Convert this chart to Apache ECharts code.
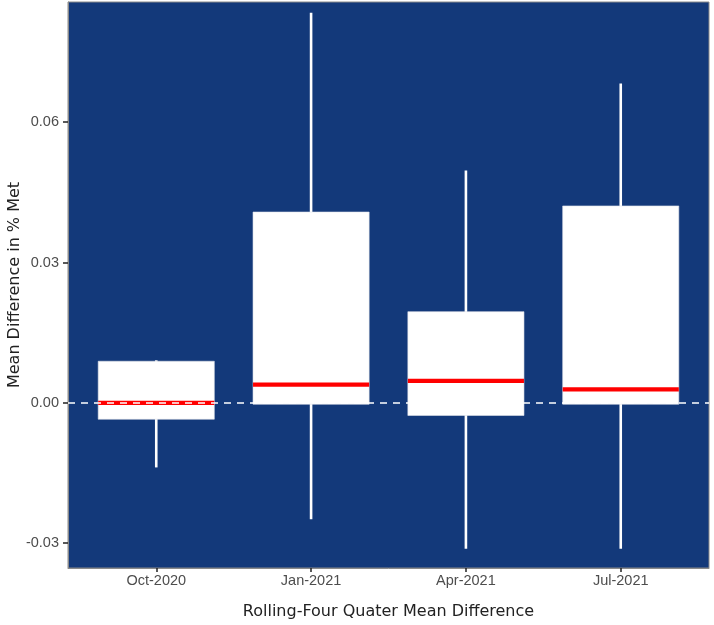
<!DOCTYPE html>
<html>
<head>
<meta charset="utf-8">
<script src="https://cdn.jsdelivr.net/npm/echarts@6/dist/echarts.min.js"></script>
<style>html,body{margin:0;padding:0;background:#fff;}#c{width:714px;height:625px;}</style>
</head>
<body>
<div id="c"></div>
<script>
var categories = ['Oct-2020', 'Jan-2021', 'Apr-2021', 'Jul-2021'];
var lowValues = [-0.0138, -0.0249, -0.0312, -0.0312];
var q1Values = [-0.0035, -0.0003, -0.0027, -0.0003];
var medianValues = [0.0000, 0.0039, 0.0047, 0.0029];
var q3Values = [0.0089, 0.0408, 0.0195, 0.0421];
var highValues = [0.0091, 0.0834, 0.0497, 0.0683];
var yTicks = [-0.03, 0.00, 0.03, 0.06];

var boxData = categories.map(function (c, i) {
  return [i, lowValues[i], q1Values[i], medianValues[i], q3Values[i], highValues[i]];
});
var xTickValues = categories.map(function (c, i) { return i; });
var halfWidth = 0.375;

var chart = echarts.init(document.getElementById('c'), null, {renderer: 'canvas'});
chart.setOption({
  animation: false,
  grid: {
    left: 68, right: 5, top: 2, bottom: 57,
    outerBoundsMode: 'none', containLabel: false,
    show: true, backgroundColor: '#13397a', borderColor: '#8a8a8a', borderWidth: 1
  },
  xAxis: {
    type: 'value', min: -0.57, max: 3.57,
    splitLine: {show: false},
    axisLine: {show: true, onZero: false, lineStyle: {color: '#8a8a8a', width: 1}},
    axisTick: {show: true, customValues: xTickValues, length: 4, lineStyle: {color: '#222', width: 1.5}},
    axisLabel: {
      customValues: xTickValues, margin: 5,
      formatter: function (v) { return categories[Math.round(v)]; },
      fontFamily: 'Liberation Sans', fontSize: 14.5, color: '#4d4d4d'
    },
    name: 'Rolling-Four Quater Mean Difference',
    nameLocation: 'middle', nameGap: 36, nameMoveOverlap: false,
    nameTextStyle: {fontFamily: 'DejaVu Sans', fontSize: 16, color: '#222'}
  },
  yAxis: {
    type: 'value', min: -0.0353, max: 0.0857,
    splitLine: {show: false},
    axisLine: {show: true, onZero: false, lineStyle: {color: '#8a8a8a', width: 1}},
    axisTick: {show: true, customValues: yTicks, length: 5, lineStyle: {color: '#222', width: 1.5}},
    axisLabel: {
      customValues: yTicks, margin: 9,
      formatter: function (v) { return v.toFixed(2); },
      fontFamily: 'Liberation Sans', fontSize: 14.5, color: '#4d4d4d'
    },
    name: 'Mean Difference in % Met',
    nameLocation: 'middle', nameGap: 45, nameMoveOverlap: false,
    nameTextStyle: {fontFamily: 'DejaVu Sans', fontSize: 16, color: '#222'}
  },
  series: [
    {
      type: 'line', data: [], z: 1, silent: true,
      markLine: {
        silent: true, symbol: 'none', label: {show: false},
        lineStyle: {color: '#ffffff', type: [7, 6], width: 1.5},
        data: [{yAxis: 0}]
      }
    },
    {
      type: 'custom', z: 2,
      data: boxData,
      renderItem: function (params, api) {
        var x = api.value(0);
        var lo = api.coord([x, api.value(1)]);
        var q1 = api.coord([x - halfWidth, api.value(2)]);
        var med = api.coord([x - halfWidth, api.value(3)]);
        var medR = api.coord([x + halfWidth, api.value(3)]);
        var q3 = api.coord([x + halfWidth, api.value(4)]);
        var q1R = api.coord([x + halfWidth, api.value(2)]);
        var hi = api.coord([x, api.value(5)]);
        var cx = lo[0];
        return {
          type: 'group',
          children: [
            {type: 'line', shape: {x1: cx, y1: lo[1], x2: cx, y2: hi[1]},
             style: {stroke: '#ffffff', lineWidth: 2.6}},
            {type: 'rect', shape: {x: q1[0], y: q3[1], width: q1R[0] - q1[0], height: q1[1] - q3[1]},
             style: {fill: '#ffffff', stroke: '#dfe3ea', lineWidth: 0.6}},
            {type: 'line', shape: {x1: med[0], y1: med[1], x2: medR[0], y2: medR[1]},
             style: {stroke: '#ff0000', lineWidth: 4.2}}
          ]
        };
      }
    }
  ]
});
</script>
</body>
</html>
